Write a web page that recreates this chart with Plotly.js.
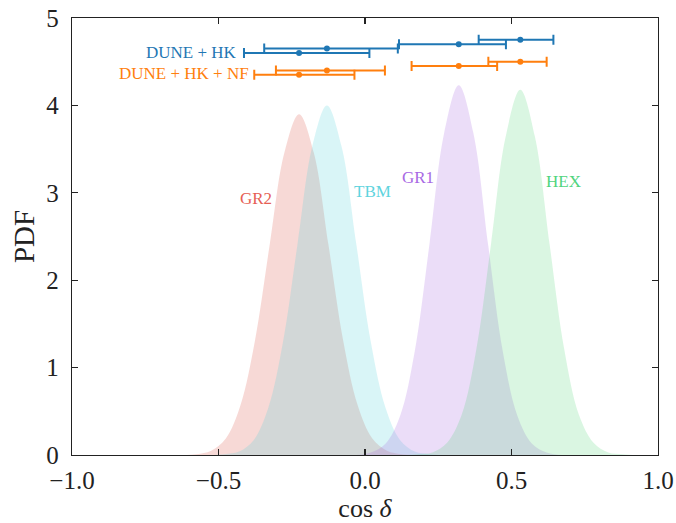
<!DOCTYPE html>
<html>
<head>
<meta charset="utf-8">
<script src="https://cdn.plot.ly/plotly-3.0.1.min.js"></script>
<style>html,body{margin:0;padding:0;background:#fff;}#plot{width:676px;height:523px;}</style>
</head>
<body>
<div id="plot"></div>
<script>
// PDF curves
const gr2X = [-0.625,-0.575,-0.525,-0.475,-0.425,-0.375,-0.325,-0.275,-0.225,-0.175,-0.125,-0.075,-0.025,0.025,0.075,0.125,0.175];
const gr2Y = [0.00,0.01,0.05,0.19,0.57,1.32,2.41,3.46,3.90,3.46,2.41,1.32,0.57,0.19,0.05,0.01,0.00];
const tbmX = [-0.53,-0.48,-0.43,-0.38,-0.33,-0.28,-0.23,-0.18,-0.13,-0.08,-0.03,0.02,0.07,0.12,0.17,0.22,0.27];
const tbmY = [0.00,0.01,0.04,0.17,0.54,1.29,2.42,3.53,4.00,3.53,2.42,1.29,0.54,0.17,0.04,0.01,0.00];
const gr1X = [-0.08,-0.03,0.02,0.07,0.12,0.17,0.22,0.27,0.32,0.37,0.42,0.47,0.52,0.57,0.62,0.67,0.72];
const gr1Y = [0.00,0.00,0.03,0.13,0.45,1.19,2.41,3.68,4.23,3.68,2.41,1.19,0.45,0.13,0.03,0.00,0.00];
const hexX = [0.13,0.18,0.23,0.28,0.33,0.38,0.43,0.48,0.53,0.58,0.63,0.68,0.73,0.78,0.83,0.88,0.93];
const hexY = [0.00,0.01,0.03,0.14,0.46,1.21,2.41,3.64,4.18,3.64,2.41,1.21,0.46,0.14,0.03,0.01,0.00];

// Error bar measurements (GR2, TBM, GR1, HEX)
const hkCenter = [-0.225,-0.13,0.32,0.53];
const hkLow    = [-0.413,-0.344,0.116,0.388];
const hkHigh   = [0.015,0.112,0.481,0.643];
const hkY      = [4.60,4.65,4.70,4.75];
const nfCenter = [-0.225,-0.13,0.32,0.53];
const nfLow    = [-0.378,-0.304,0.159,0.421];
const nfHigh   = [-0.036,0.068,0.451,0.620];
const nfY      = [4.35,4.40,4.45,4.50];

const modelNames = ['GR2','TBM','GR1','HEX'];
const xTicks = [-1.0,-0.5,0.0,0.5,1.0];
const xTickText = ['\u22121.0','\u22120.5','0.0','0.5','1.0'];
const yTicks = [0,1,2,3,4,5];

const serif = 'Liberation Serif, DejaVu Serif, serif';
const fillCols = ['rgba(220,80,70,0.22)','rgba(80,210,220,0.22)','rgba(165,100,225,0.22)','rgba(70,210,110,0.2)'];
const textCols = ['rgb(230,95,85)','rgb(95,212,222)','rgb(168,105,228)','rgb(80,212,125)'];
const curvesX = [gr2X,tbmX,gr1X,hexX];
const curvesY = [gr2Y,tbmY,gr1Y,hexY];

const traces = curvesX.map((xs,i)=>({
  x: xs, y: curvesY[i], type:'scatter', mode:'lines', fill:'tozeroy',
  fillcolor: fillCols[i], line:{width:0, color:'rgba(0,0,0,0)', shape:'spline', smoothing:1},
  hoverinfo:'skip', showlegend:false, name: modelNames[i]
}));

function ebTrace(cx, lo, hi, ys, color){
  return {
    x: cx, y: ys, type:'scatter', mode:'markers',
    marker:{color:color, size:6},
    error_x:{type:'data', symmetric:false,
      array: cx.map((c,i)=>hi[i]-c), arrayminus: cx.map((c,i)=>c-lo[i]),
      color:color, thickness:2, width:5},
    showlegend:false
  };
}
traces.push(ebTrace(hkCenter,hkLow,hkHigh,hkY,'#1f77b4'));
traces.push(ebTrace(nfCenter,nfLow,nfHigh,nfY,'#ff7f0e'));

const labelPos = [[-0.372,2.94],[0.024,3.01],[0.18,3.18],[0.676,3.13]];
const annotations = modelNames.map((n,i)=>({
  x: labelPos[i][0], y: labelPos[i][1], text: n, showarrow:false,
  font:{family:serif, size:17, color:textCols[i]}, xanchor:'center', yanchor:'middle'
}));
annotations.push({x:-0.43, y:4.61, text:'DUNE + HK', showarrow:false, xanchor:'right', yanchor:'middle',
  font:{family:serif, size:17, color:'#1f77b4'}});
annotations.push({x:-0.39, y:4.37, text:'DUNE + HK + NF', showarrow:false, xanchor:'right', yanchor:'middle',
  font:{family:serif, size:17, color:'#ff7f0e'}});

const axisCommon = {
  showline:true, linecolor:'#222', linewidth:1.3, mirror:'ticks', ticks:'inside', ticklen:6,
  tickwidth:1.2, tickcolor:'#222', showgrid:false, zeroline:false,
  tickfont:{family:serif, size:25, color:'#222'}
};

const layout = {
  width:676, height:523, paper_bgcolor:'#fff', plot_bgcolor:'#fff',
  margin:{l:72, r:18, t:18, b:68},
  xaxis: Object.assign({}, axisCommon, {range:[-1,1], tickvals:xTicks, ticktext:xTickText,
    ticklabelstandoff:3,
    title:{text:'cos <i>\u03b4</i>', font:{family:serif, size:26, color:'#222'}, standoff:1}}),
  yaxis: Object.assign({}, axisCommon, {range:[0,5], tickvals:yTicks,
    ticklabelstandoff:7,
    title:{text:'PDF', font:{family:serif, size:29, color:'#222'}, standoff:3}}),
  annotations: annotations,
  showlegend:false
};

Plotly.newPlot('plot', traces, layout, {staticPlot:true, displayModeBar:false});
</script>
</body>
</html>
